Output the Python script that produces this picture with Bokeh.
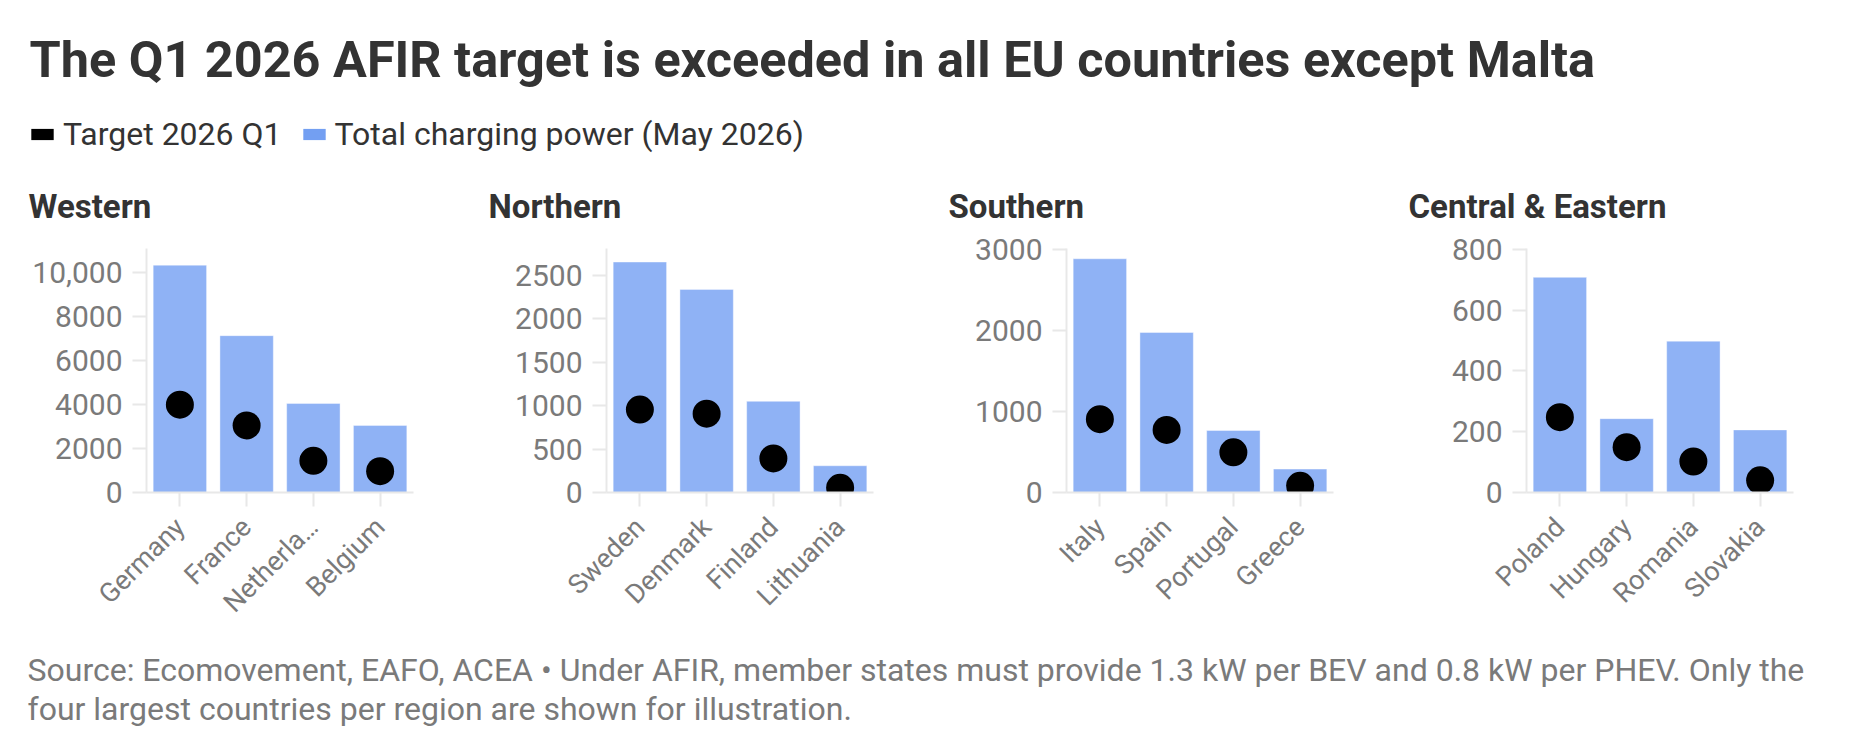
from bokeh.plotting import figure
from bokeh.models import (FactorRange, Range1d, FixedTicker, Label, Legend, LegendItem,
                          ColumnDataSource, CustomJSTickFormatter)
from bokeh.layouts import column, row
from bokeh.embed import file_html
from bokeh.resources import INLINE

# ---------------- data ----------------
title_text = "The Q1 2026 AFIR target is exceeded in all EU countries except Malta"
legend_target = "Target 2026 Q1"
legend_total = "Total charging power (May 2026)"
footer_line1 = ("Source: Ecomovement, EAFO, ACEA \u2022 Under AFIR, member states must provide "
                "1.3 kW per BEV and 0.8 kW per PHEV. Only the")
footer_line2 = "four largest countries per region are shown for illustration."

regions = ["Western", "Northern", "Southern", "Central & Eastern"]

western_countries = ["Germany", "France", "Netherlands", "Belgium"]
western_total = [10320, 7120, 4045, 3045]
western_target = [3985, 3045, 1440, 970]
western_ticks = [0, 2000, 4000, 6000, 8000, 10000]
western_tick_labels = ["0", "2000", "4000", "6000", "8000", "10,000"]
western_ymax = 11077

northern_countries = ["Sweden", "Denmark", "Finland", "Lithuania"]
northern_total = [2655, 2340, 1050, 308]
northern_target = [955, 908, 392, 54]
northern_ticks = [0, 500, 1000, 1500, 2000, 2500]
northern_tick_labels = ["0", "500", "1000", "1500", "2000", "2500"]
northern_ymax = 2811

southern_countries = ["Italy", "Spain", "Portugal", "Greece"]
southern_total = [2885, 1975, 765, 289]
southern_target = [905, 773, 496, 83]
southern_ticks = [0, 1000, 2000, 3000]
southern_tick_labels = ["0", "1000", "2000", "3000"]
southern_ymax = 3012

central_countries = ["Poland", "Hungary", "Romania", "Slovakia"]
central_total = [708, 243, 498, 206]
central_target = [248, 149, 102, 40]
central_ticks = [0, 200, 400, 600, 800]
central_tick_labels = ["0", "200", "400", "600", "800"]
central_ymax = 803

# ---------------- styles ----------------
FONT = "Roboto"
DARK = "#333333"
GRAY = "#7a7a7a"
AXIS = "#e8e8e8"
BLUE = "#739FF2"
HEADER_H = 230
PANEL_W = 460
PANEL_H = 410
FOOTER_H = 100
PAGE_W = 4 * PANEL_W

truncate = CustomJSTickFormatter(
    code="return tick.length > 10 ? tick.slice(0, 8) + '\u2026' : tick;")


def make_panel(cats, total, target, ymax, ticks, tick_labels):
    p = figure(width=PANEL_W, height=PANEL_H,
               x_range=FactorRange(factors=cats), y_range=Range1d(0, ymax),
               output_backend="svg", toolbar_location=None, title=None,
               min_border_left=146, min_border_right=47,
               min_border_top=18, min_border_bottom=148)
    src = ColumnDataSource(dict(country=cats, total=total, target=target))
    p.vbar(x="country", top="total", width=0.8, source=src,
           fill_color=BLUE, fill_alpha=0.8, line_color="white", line_alpha=0.4, line_width=1)
    p.scatter(x="country", y="target", size=28, source=src,
              fill_color="black", line_color=None)

    p.xgrid.visible = False
    p.ygrid.visible = False
    p.outline_line_color = None
    p.background_fill_color = "white"
    p.border_fill_color = "white"

    ya = p.yaxis[0]
    ya.ticker = FixedTicker(ticks=ticks)
    ya.major_label_overrides = {t: l for t, l in zip(ticks, tick_labels)}
    ya.minor_tick_line_color = None
    ya.major_tick_out = 14
    ya.major_tick_in = 0
    ya.major_tick_line_color = AXIS
    ya.major_tick_line_width = 2
    ya.axis_line_color = AXIS
    ya.axis_line_width = 2
    ya.major_label_text_font = FONT
    ya.major_label_text_font_size = "30px"
    ya.major_label_text_color = GRAY
    ya.major_label_standoff = 10

    xa = p.xaxis[0]
    xa.formatter = truncate
    xa.major_tick_out = 14
    xa.major_tick_in = 0
    xa.major_tick_line_color = AXIS
    xa.major_tick_line_width = 2
    xa.axis_line_color = AXIS
    xa.axis_line_width = 2
    xa.major_label_text_font = FONT
    xa.major_label_text_font_size = "27px"
    xa.major_label_text_color = GRAY
    xa.major_label_orientation = 0.785398
    xa.major_label_standoff = 16
    return p


def blank(height):
    f = figure(width=PAGE_W, height=height, x_range=Range1d(0, 1), y_range=Range1d(0, 1),
               output_backend="svg", toolbar_location=None, title=None,
               min_border=0, min_border_left=0, min_border_right=0,
               min_border_top=0, min_border_bottom=0)
    f.axis.visible = False
    f.xgrid.visible = False
    f.ygrid.visible = False
    f.outline_line_color = None
    return f


# ---------------- header (title, legend, region titles) ----------------
header = blank(HEADER_H)
nan = float("nan")
r_target = header.quad(source=ColumnDataSource(dict(l=[nan], r=[nan], t=[nan], b=[nan])),
                       left="l", right="r", top="t", bottom="b",
                       fill_color="black", line_color=None, border_radius=7)
r_total = header.quad(source=ColumnDataSource(dict(l=[nan], r=[nan], t=[nan], b=[nan])),
                      left="l", right="r", top="t", bottom="b",
                      fill_color=BLUE, line_color=None, border_radius=7)
header.add_layout(Label(x=29, y=HEADER_H - 59, x_units="screen", y_units="screen",
                        text=title_text, text_font=FONT, text_font_size="50.4px",
                        text_font_style="bold", text_color=DARK, text_baseline="middle"))
legend = Legend(items=[LegendItem(label=legend_target, renderers=[r_target]),
                       LegendItem(label=legend_total, renderers=[r_total])],
                orientation="horizontal", location=(28, HEADER_H - 153),
                glyph_width=28, glyph_height=14, label_standoff=7, spacing=18,
                padding=0, margin=0, border_line_color=None, background_fill_alpha=0,
                label_text_font=FONT, label_text_font_size="32px", label_text_color=DARK,
                label_height=36)
header.add_layout(legend, "center")
for i, name in enumerate(regions):
    header.add_layout(Label(x=28 + i * PANEL_W, y=HEADER_H - 205.5,
                            x_units="screen", y_units="screen",
                            text=name, text_font=FONT, text_font_size="33px",
                            text_font_style="bold", text_color=DARK, text_baseline="middle"))

# ---------------- panels ----------------
panels = [
    make_panel(western_countries, western_total, western_target, western_ymax,
               western_ticks, western_tick_labels),
    make_panel(northern_countries, northern_total, northern_target, northern_ymax,
               northern_ticks, northern_tick_labels),
    make_panel(southern_countries, southern_total, southern_target, southern_ymax,
               southern_ticks, southern_tick_labels),
    make_panel(central_countries, central_total, central_target, central_ymax,
               central_ticks, central_tick_labels),
]

# ---------------- footer ----------------
footer = blank(FOOTER_H)
footer.add_layout(Label(x=27, y=FOOTER_H - 29, x_units="screen", y_units="screen",
                        text=footer_line1, text_font=FONT, text_font_size="32px",
                        text_color=GRAY, text_baseline="middle"))
footer.add_layout(Label(x=27, y=FOOTER_H - 68, x_units="screen", y_units="screen",
                        text=footer_line2, text_font=FONT, text_font_size="32px",
                        text_color=GRAY, text_baseline="middle"))

layout = column(header, row(*panels), footer)
open("out.html", "w").write(file_html(layout, INLINE))
